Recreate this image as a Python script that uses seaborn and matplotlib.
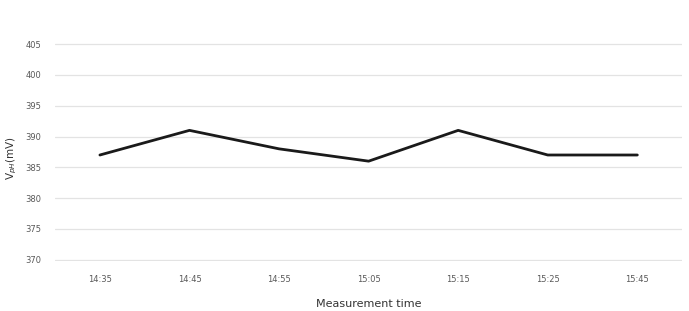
import matplotlib
matplotlib.use("Agg")
import matplotlib.pyplot as plt
import seaborn as sns
import pandas as pd

times = ["14:35", "14:45", "14:55", "15:05", "15:15", "15:25", "15:45"]
vph = [387, 391, 388, 386, 391, 387, 387]
yticks = [370, 375, 380, 385, 390, 395, 400, 405]

sns.set_theme(style="white")
plt.rcParams['font.family'] = ['DejaVu Sans']

df = pd.DataFrame({"time": times, "vph": vph})
fig = plt.figure(figsize=(6.89, 3.11), dpi=100)
ax = fig.add_axes([0.080, 0.161, 0.910, 0.701])
x = list(range(len(times)))
sns.lineplot(x=x, y=df["vph"], ax=ax, color="#1a1a1a", linewidth=2.0)
ax.set_xticks(x)
ax.set_xticklabels(times)
ax.set_xlim(-0.5, len(times) - 0.5)
ax.set_ylim(369.8, 405.2)
ax.set_yticks(yticks)
ax.grid(axis="y", color="#e3e3e3", linewidth=0.9)
ax.set_axisbelow(True)
for s in ax.spines.values():
    s.set_visible(False)
ax.tick_params(axis="both", labelsize=6, colors="#595959", length=0)
ax.tick_params(axis="x", pad=10)
ax.tick_params(axis="y", pad=10)
ax.set_xlabel("Measurement time", fontsize=8, color="#333333", labelpad=11)
ax.set_ylabel("V$_{pH}$(mV)", fontsize=7.5, color="#333333")
ax.yaxis.set_label_coords(-0.058, 0.47)
fig.savefig("out.png", dpi=100)
